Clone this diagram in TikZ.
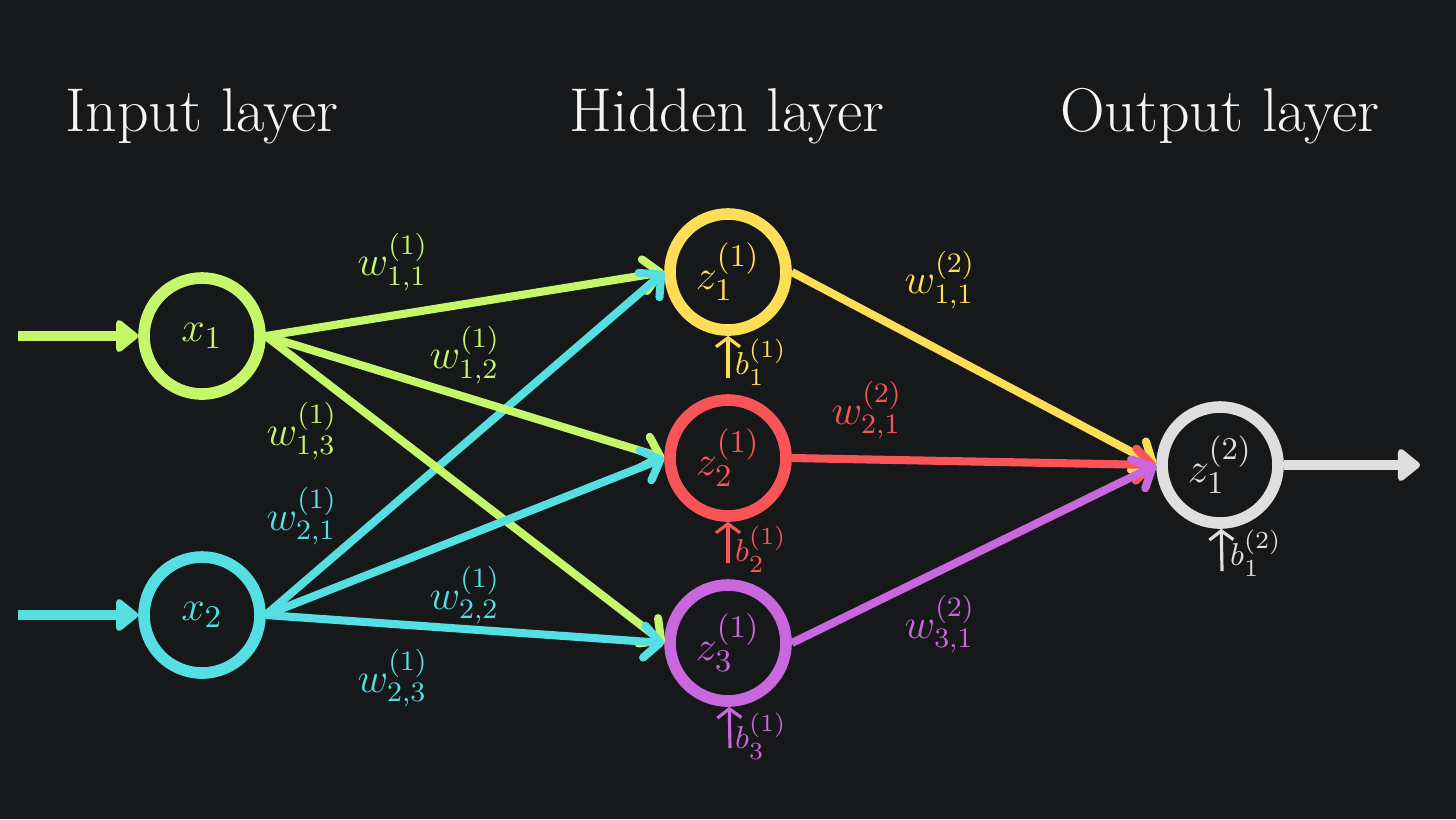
\documentclass[tikz,border=0pt]{standalone}
\usetikzlibrary{arrows.meta}
\definecolor{bgdark}{HTML}{17181A}
\definecolor{ngreen}{HTML}{C4F76A}
\definecolor{ncyan}{HTML}{55DFE3}
\definecolor{nyellow}{HTML}{FEDD57}
\definecolor{nred}{HTML}{F95558}
\definecolor{npurple}{HTML}{C967DF}
\definecolor{ngray}{HTML}{DEDEDE}
\definecolor{ntext}{HTML}{F4F4F4}
\begin{document}
\begin{tikzpicture}[
  neuron/.style={circle,draw,line width=3.3pt,minimum size=1.16cm,inner sep=0pt,font=\fontsize{13}{15}\selectfont},
  weight/.style={line width=2.3pt,-{Straight Barb[length=1.6mm,width=3.2mm,round]}},
  signal/.style={line width=3pt,-{Triangle[length=2.4mm,width=3.7mm,round]}},
  bias/.style={line width=0.9pt,-{Straight Barb[length=0.9mm,width=2.4mm]}},
  wlabel/.style={font=\fontsize{12}{14}\selectfont},
  blabel/.style={font=\fontsize{9.5}{11}\selectfont},
  title/.style={anchor=base,text=ntext,font=\fontsize{17.6}{21}\selectfont}]
\fill[bgdark] (0,0) rectangle (14.56,-8.19);
% layer titles
\node[title] (tin) at (2.02,-1.31) {Input layer};
\node[title] (thid) at (7.27,-1.31) {Hidden layer};
\node[title] (tout) at (12.20,-1.31) {Output layer};
% neurons
\node[neuron,ngreen] (x1) at (2.02,-3.36) {$x_1$};
\node[neuron,ncyan] (x2) at (2.02,-6.15) {$x_2$};
\node[neuron,nyellow] (z1) at (7.28,-2.72) {$z^{(1)}_1$};
\node[neuron,nred] (z2) at (7.28,-4.58) {$z^{(1)}_2$};
\node[neuron,npurple] (z3) at (7.28,-6.43) {$z^{(1)}_3$};
\node[neuron,ngray] (y1) at (12.20,-4.65) {$z^{(2)}_1$};
% inputs and output
\coordinate (in1) at (0.18,-3.36);
\coordinate (in2) at (0.18,-6.15);
\coordinate (out1) at (14.20,-4.65);
\draw[signal,ngreen] (in1) -- (x1);
\draw[signal,ncyan] (in2) -- (x2);
\draw[signal,ngray] (y1) -- (out1);
% first layer weights
\draw[weight,ngreen] (x1.east) -- (z1.west);
\draw[weight,ncyan] (x2.east) -- (z1.west);
\draw[weight,ngreen] (x1.east) -- (z2.west);
\draw[weight,ngreen] (x1.east) -- (z3.west);
\draw[weight,ncyan] (x2.east) -- (z2.west);
\draw[weight,ncyan] (x2.east) -- (z3.west);
% second layer weights
\draw[weight,nyellow] (z1.east) -- (y1.west);
\draw[weight,nred] (z2.east) -- (y1.west);
\draw[weight,npurple] (z3.east) -- (y1.west);
% weight labels
\node[wlabel,ngreen] (w11a) at (3.93,-2.62) {$w^{(1)}_{1,1}$};
\node[wlabel,ngreen] (w12a) at (4.65,-3.55) {$w^{(1)}_{1,2}$};
\node[wlabel,ngreen] (w13a) at (3.02,-4.31) {$w^{(1)}_{1,3}$};
\node[wlabel,ncyan] (w21a) at (3.02,-5.16) {$w^{(1)}_{2,1}$};
\node[wlabel,ncyan] (w22a) at (4.65,-5.95) {$w^{(1)}_{2,2}$};
\node[wlabel,ncyan] (w23a) at (3.93,-6.78) {$w^{(1)}_{2,3}$};
\node[wlabel,nyellow] (w11b) at (9.40,-2.80) {$w^{(2)}_{1,1}$};
\node[wlabel,nred] (w21b) at (8.67,-4.10) {$w^{(2)}_{2,1}$};
\node[wlabel,npurple] (w31b) at (9.40,-6.24) {$w^{(2)}_{3,1}$};
% biases
\coordinate (bz1) at (7.28,-3.78);
\coordinate (bz2) at (7.28,-5.63);
\coordinate (bz3) at (7.30,-7.48);
\coordinate (by1) at (12.22,-5.71);
\draw[bias,nyellow] (bz1) -- (z1);
\draw[bias,nred] (bz2) -- (z2);
\draw[bias,npurple] (bz3) -- (z3);
\draw[bias,ngray] (by1) -- (y1);
\node[blabel,nyellow] (b1) at (7.61,-3.62) {$b^{(1)}_1$};
\node[blabel,nred] (b2) at (7.61,-5.49) {$b^{(1)}_2$};
\node[blabel,npurple] (b3) at (7.61,-7.36) {$b^{(1)}_3$};
\node[blabel,ngray] (b4) at (12.56,-5.53) {$b^{(2)}_1$};
\end{tikzpicture}
\end{document}
